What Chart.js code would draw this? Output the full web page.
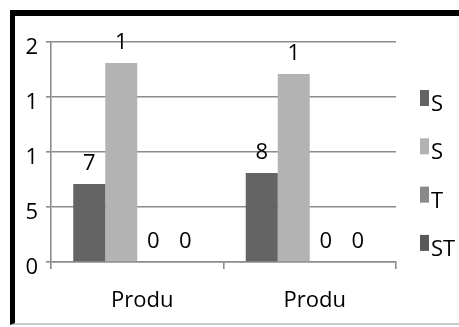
<!DOCTYPE html>
<html>
<head>
<meta charset="utf-8">
<script src="https://cdn.jsdelivr.net/npm/chart.js@4/dist/chart.umd.min.js"></script>
<style>
  html, body { margin: 0; padding: 0; background: #fff; }
  #wrap { position: relative; width: 459px; height: 327px; overflow: hidden; }
  #frame {
    position: absolute; left: 10px; top: 10px; width: 449px; height: 315px;
    border-top: 6px solid #000; border-left: 5px solid #000;
    border-bottom: 2px solid #c8c8c8; box-sizing: border-box;
  }
  canvas { position: absolute; left: 0; top: 0; }
</style>
</head>
<body>
<div id="wrap">
  <div id="frame"></div>
  <canvas id="c" width="459" height="327"></canvas>
</div>
<script>
// Category names and series, as shown (clipped text)
const categories = ['Produ', 'Produ'];
const seriesNames = ['S', 'S', 'T', 'ST'];
const series1 = [7.1, 8.1];
const series2 = [18.1, 17.1];
const series3 = [0, 0];
const series4 = [0, 0];
const seriesColors = ['#646464', '#b3b3b3', '#898989', '#595959'];
const yTickLabels = ['0', '5', '1', '1', '2'];

const FONT = { family: '"Open Sans", sans-serif', size: 22 };
const LINE = '#8c8c8c';

// Value labels above each bar; the text is clipped to its first character
const valueLabels = {
  id: 'valueLabels',
  afterDatasetsDraw(chart) {
    const ctx = chart.ctx;
    ctx.save();
    ctx.font = FONT.size + 'px ' + FONT.family;
    ctx.fillStyle = '#000';
    ctx.textAlign = 'center';
    ctx.textBaseline = 'alphabetic';
    chart.data.datasets.forEach((ds, i) => {
      chart.getDatasetMeta(i).data.forEach((el, j) => {
        const txt = String(ds.data[j]).charAt(0);
        ctx.fillText(txt, el.x, el.y - 14);
      });
    });
    ctx.restore();
  }
};

// Legend on the right: narrow swatch followed by the series name
const sideLegend = {
  id: 'sideLegend',
  afterDraw(chart) {
    const ctx = chart.ctx;
    ctx.save();
    ctx.font = FONT.size + 'px ' + FONT.family;
    ctx.textBaseline = 'alphabetic';
    ctx.textAlign = 'left';
    chart.data.datasets.forEach((ds, i) => {
      const top = 90 + i * 48.3;
      ctx.fillStyle = ds.backgroundColor;
      ctx.fillRect(420, top, 9, 16);
      ctx.fillStyle = '#000';
      ctx.fillText(ds.label, 431, top + 21);
    });
    ctx.restore();
  }
};

const allSeries = [series1, series2, series3, series4];

new Chart(document.getElementById('c'), {
  type: 'bar',
  data: {
    labels: categories,
    datasets: allSeries.map((d, i) => ({
      label: seriesNames[i],
      data: d,
      backgroundColor: seriesColors[i],
      borderWidth: 0,
      barPercentage: 1,
      categoryPercentage: 0.742
    }))
  },
  options: {
    responsive: false,
    animation: false,
    devicePixelRatio: 1,
    layout: { padding: { left: 0, top: 42, right: 63, bottom: 0 } },
    plugins: { legend: { display: false }, tooltip: { enabled: false } },
    scales: {
      x: {
        grid: { display: true, drawOnChartArea: false, drawTicks: true, tickLength: 7, offset: true, color: LINE, lineWidth: 1.6 },
        border: { display: true, color: LINE, width: 1.6 },
        ticks: { color: '#000', font: FONT, padding: 19, labelOffset: 5, maxRotation: 0 },
        afterFit(s) { s.height = 65; }
      },
      y: {
        min: 0, max: 20,
        grid: { color: LINE, lineWidth: 1.6, tickLength: 5 },
        border: { display: true, color: LINE, width: 1.6 },
        ticks: {
          stepSize: 5, color: '#000', font: FONT, padding: 8, labelOffset: 6,
          callback: (v, idx) => yTickLabels[idx]
        },
        afterFit(s) { s.width = 51; }
      }
    }
  },
  plugins: [valueLabels, sideLegend]
});
</script>
</body>
</html>
